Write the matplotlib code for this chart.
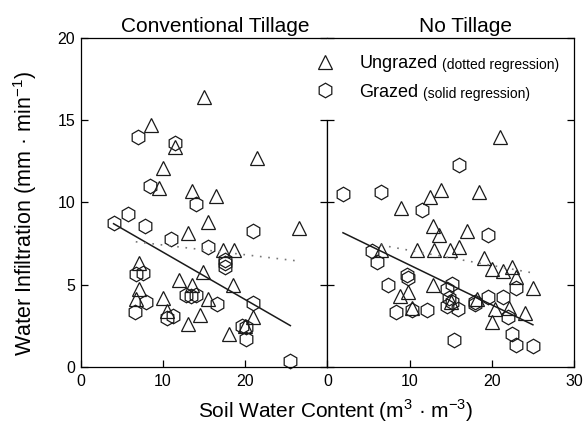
import numpy as np
import matplotlib
matplotlib.use('Agg')
import matplotlib.pyplot as plt

plt.rcParams['font.family'] = ['Liberation Sans', 'DejaVu Sans']

# conventional tillage
ct_ungrazed_x = [15.0, 8.5, 11.5, 10.0, 21.5, 9.5, 13.5, 16.5, 15.5, 26.5, 13.0, 17.35, 18.6, 7.1,
                 14.9, 11.9, 13.5, 18.5, 7.1, 10.0, 6.7, 15.5, 10.5, 14.5, 21.0, 13.0, 20.0, 18.05]
ct_ungrazed_y = [16.4, 14.7, 13.35, 12.1, 12.7, 10.9, 10.7, 10.4, 8.8, 8.45, 8.15, 7.1, 7.1, 6.3,
                 5.75, 5.3, 5.0, 4.95, 4.75, 4.2, 4.1, 4.1, 3.4, 3.15, 3.05, 2.6, 2.45, 2.0]
ct_grazed_x = [7.0, 11.5, 8.4, 14.0, 5.8, 4.0, 7.8, 11.0, 21.0, 15.5, 17.6, 17.6, 17.6, 6.7,
               7.6, 12.8, 13.4, 14.0, 7.9, 16.55, 21.0, 6.6, 10.5, 11.25, 19.6, 20.1, 20.1, 25.5]
ct_grazed_y = [13.95, 13.6, 11.0, 9.9, 9.3, 8.75, 8.55, 7.75, 8.25, 7.3, 6.5, 6.3, 6.05, 5.65,
               5.7, 4.35, 4.3, 4.35, 3.95, 3.8, 3.85, 3.35, 2.95, 3.1, 2.5, 2.4, 1.7, 0.35]

# no tillage
nt_ungrazed_x = [21.0, 13.8, 12.5, 18.5, 8.9, 12.9, 13.6, 16.95, 10.95, 13.0, 14.9, 16.05, 6.5, 19.0,
                 20.0, 21.4, 22.4, 23.0, 25.0, 12.9, 9.85, 8.85, 15.0, 18.2, 20.4, 22.1, 24.05, 20.0, 10.25]
nt_ungrazed_y = [13.95, 10.75, 10.3, 10.6, 9.65, 8.55, 8.0, 8.25, 7.1, 7.1, 7.1, 7.3, 7.1, 6.6,
                 5.95, 5.85, 6.05, 5.45, 4.8, 4.95, 4.55, 4.3, 3.95, 4.1, 3.5, 3.55, 3.25, 2.75, 3.55]
nt_grazed_x = [16.0, 1.9, 6.5, 11.5, 19.5, 5.4, 6.0, 9.7, 9.85, 7.4, 23.0, 15.1, 14.5, 14.85, 15.1,
               14.5, 15.95, 18.0, 18.0, 19.5, 21.4, 22.0, 8.35, 10.25, 12.1, 22.4, 22.95, 25.0, 15.45]
nt_grazed_y = [12.25, 10.5, 10.6, 9.55, 8.0, 7.05, 6.4, 5.6, 5.4, 5.0, 4.8, 5.05, 4.7, 4.15, 3.95,
               3.7, 3.5, 3.95, 3.8, 4.25, 4.25, 3.05, 3.35, 3.45, 3.45, 2.0, 1.3, 1.25, 1.65]

# regression line end points
ct_fit_grazed_x, ct_fit_grazed_y = [4.0, 25.5], [8.7, 2.5]
ct_fit_ungrazed_x, ct_fit_ungrazed_y = [6.7, 26.1], [7.6, 6.45]
nt_fit_grazed_x, nt_fit_grazed_y = [1.9, 25.0], [8.15, 2.55]
nt_fit_ungrazed_x, nt_fit_ungrazed_y = [6.5, 25.05], [7.4, 5.7]

titles = ['Conventional Tillage', 'No Tillage']

fig, (ax1, ax2) = plt.subplots(1, 2, sharey=True, figsize=(5.83, 4.23), dpi=100)
fig.subplots_adjust(left=0.1384, right=0.9846, bottom=0.1331, top=0.9102, wspace=0)

panels = [
    (ax1, ct_ungrazed_x, ct_ungrazed_y, ct_grazed_x, ct_grazed_y,
     ct_fit_ungrazed_x, ct_fit_ungrazed_y, ct_fit_grazed_x, ct_fit_grazed_y),
    (ax2, nt_ungrazed_x, nt_ungrazed_y, nt_grazed_x, nt_grazed_y,
     nt_fit_ungrazed_x, nt_fit_ungrazed_y, nt_fit_grazed_x, nt_fit_grazed_y),
]

mk = dict(ls='none', mfc='none', mec='#1a1a1a', mew=0.9, ms=10.5, clip_on=False)
for ax, ux, uy, gx, gy, fux, fuy, fgx, fgy in panels:
    h_u, = ax.plot(ux, uy, marker='^', **mk)
    h_g, = ax.plot(gx, gy, marker='h', **mk)
    ax.plot(fgx, fgy, color='#1a1a1a', lw=1.1)
    ax.plot(fux, fuy, color='#777777', lw=1.2, ls=(0, (1, 4)))
    ax.set_xlim(0, 30)
    ax.set_ylim(0, 20)
    ax.set_yticks([0, 5, 10, 15, 20])
    ax.tick_params(direction='in', length=4.8, width=0.9, labelsize=11.5, top=False,
                   left=True, right=True)
    ax.tick_params(axis='x', pad=5)
    ax.tick_params(axis='y', pad=4)
    for sp in ax.spines.values():
        sp.set_linewidth(0.9)

ax1.set_xticks([0, 10, 20])
ax2.set_xticks([0, 10, 20, 30])
ax2.tick_params(labelleft=False)
# divider between the panels stops below the legend
ax1.spines['right'].set_bounds(0, 15)
ax2.spines['left'].set_bounds(0, 15)

ax1.text(0.545, 1.018, titles[0], transform=ax1.transAxes, ha='center', va='baseline', fontsize=15)
ax2.text(0.562, 1.018, titles[1], transform=ax2.transAxes, ha='center', va='baseline', fontsize=15)

fig.text(25.5 / 583, 1 - 214 / 423, 'Water Infiltration (mm \u00b7 min$^{\\mathregular{-1}}$)',
         rotation=90, ha='center', va='center', fontsize=15.5)
fig.text(0.576, 5 / 423, 'Soil Water Content (m$^{\\mathregular{3}}$ \u00b7 m$^{\\mathregular{-3}}$)',
         ha='center', va='baseline', fontsize=15)

leg = ax2.legend([h_u, h_g], ['Ungrazed', 'Grazed'], loc='upper left',
                 bbox_to_anchor=(-0.075, 0.970), frameon=False, fontsize=13,
                 handlelength=1.0, handletextpad=1.4, borderpad=0.4, borderaxespad=0,
                 labelspacing=0.64)
for t, s in zip(leg.get_texts(), ['(dotted regression)', '(solid regression)']):
    ax2.annotate(s, xy=(1, 0), xycoords=t, xytext=(3, 0), textcoords='offset points',
                 fontsize=10, va='bottom', zorder=6)

fig.canvas.draw()
fig.savefig('out.png', dpi=100)
